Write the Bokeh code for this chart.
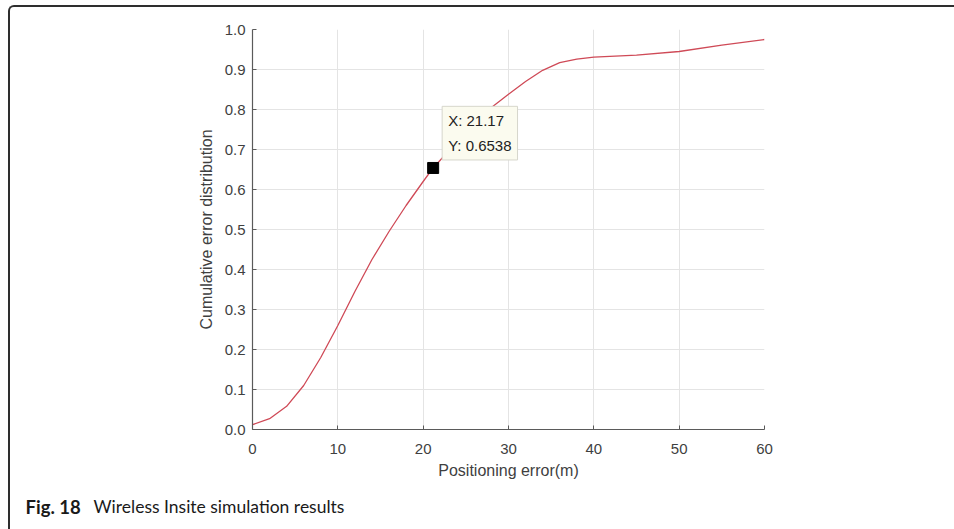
from bokeh.plotting import figure
from bokeh.models import Label, FixedTicker, Range1d
from bokeh.layouts import column, row
from bokeh.core.properties import value
from bokeh.embed import file_html
from bokeh.resources import INLINE

# ---- data ----
x_err = [0, 2, 4, 6, 8, 10, 12, 14, 16, 18, 20, 21.17, 24, 26, 28, 30, 32,
         34, 36, 38, 40, 45, 50, 55, 60]
cdf = [0.012, 0.027, 0.058, 0.110, 0.180, 0.260, 0.345, 0.425, 0.495, 0.560,
       0.620, 0.6538, 0.72, 0.768, 0.805, 0.838, 0.870, 0.898, 0.917, 0.926,
       0.931, 0.936, 0.945, 0.961, 0.975]
tip_x = 21.17
tip_y = 0.6538
x_ticks = [0, 10, 20, 30, 40, 50, 60]
y_ticks = [0.0, 0.1, 0.2, 0.3, 0.4, 0.5, 0.6, 0.7, 0.8, 0.9, 1.0]
y_tick_labels = ["0.0", "0.1", "0.2", "0.3", "0.4", "0.5", "0.6", "0.7", "0.8", "0.9", "1.0"]
x_label = "Positioning error(m)"
y_label = "Cumulative error distribution"
caption_bold = "Fig. 18"
caption_text = "Wireless Insite simulation results"

FONT = "Liberation Sans"
TXT = "#3f3f3f"
W = 944

p = figure(width=W, height=483, output_backend="svg", toolbar_location=None,
           x_range=Range1d(0, 60), y_range=Range1d(0, 1),
           min_border_left=242, min_border_right=W - 242 - 512,
           min_border_top=22, min_border_bottom=61)
p.outline_line_color = None
p.background_fill_color = "white"
p.border_fill_color = "white"

# grid
p.xgrid.ticker = FixedTicker(ticks=x_ticks)
p.ygrid.ticker = FixedTicker(ticks=y_ticks)
for g in (p.xgrid, p.ygrid):
    g.grid_line_color = "#e4e4e4"
    g.grid_line_width = 1

# axes
p.xaxis.ticker = FixedTicker(ticks=x_ticks)
p.yaxis.ticker = FixedTicker(ticks=y_ticks)
p.yaxis.major_label_overrides = {t: l for t, l in zip(y_ticks, y_tick_labels)}
p.xaxis.axis_label = x_label
p.yaxis.axis_label = y_label
for ax in (p.xaxis, p.yaxis):
    ax.axis_line_color = "#5a5a5a"
    ax.axis_line_width = 1.2
    ax.major_tick_line_color = "#5a5a5a"
    ax.major_tick_in = 4
    ax.major_tick_out = 0
    ax.minor_tick_line_color = None
    ax.major_label_text_font = FONT
    ax.major_label_text_font_size = "15px"
    ax.major_label_text_color = TXT
    ax.axis_label_text_font = FONT
    ax.axis_label_text_font_size = "16px"
    ax.axis_label_text_font_style = "normal"
    ax.axis_label_text_color = TXT
p.xaxis.major_label_standoff = 14
p.xaxis.axis_label_standoff = 5
p.yaxis.major_label_standoff = 7
p.yaxis.axis_label_standoff = 7

# curve
p.line(x_err, cdf, line_color="#cf4a57", line_width=1.3)

# data tip
p.scatter([tip_x], [tip_y], marker="square", size=11, fill_color="black",
          line_color="black")
tip = Label(x=tip_x, y=tip_y, x_units="data", y_units="data",
            text=f"X: {tip_x}\nY: {tip_y}",
            x_offset=9, y_offset=8,
            text_align="left", text_baseline="bottom",
            text_font=FONT, text_font_size="15px", text_color="#222222",
            text_line_height=1.45,
            background_fill_color="#fbfbef", background_fill_alpha=1.0,
            border_line_color="#d6d6cc", border_line_width=1,
            padding=6)
p.add_layout(tip)

# caption strip (a pixel-mapped figure below the chart)
CAP_H = 39
c = figure(width=W, height=CAP_H, output_backend="svg", toolbar_location=None,
           x_range=Range1d(0, W), y_range=Range1d(0, CAP_H),
           min_border_left=0, min_border_right=0, min_border_top=0,
           min_border_bottom=0, x_axis_type=None, y_axis_type=None)
c.outline_line_color = None
c.grid.visible = False
c.border_fill_color = "white"
c.text(x=[15], y=[23], text=[caption_bold], text_font=value("Lato"),
       text_font_style="bold", text_font_size="18.5px", text_color="#1a1a1a",
       text_baseline="alphabetic", text_align="left")
c.text(x=[83], y=[23], text=[caption_text], text_font=value("Lato"),
       text_font_size="17.5px", text_color="#1a1a1a",
       text_baseline="alphabetic", text_align="left")

layout = column(p, row(c, spacing=0), spacing=0)
layout.styles = {"border-top": "2px solid #2e2e2e", "border-left": "2px solid #2e2e2e",
                 "border-top-left-radius": "6px", "overflow": "hidden",
                 "margin-top": "5px", "margin-left": "8px"}

open("out.html", "w").write(file_html(layout, INLINE))
